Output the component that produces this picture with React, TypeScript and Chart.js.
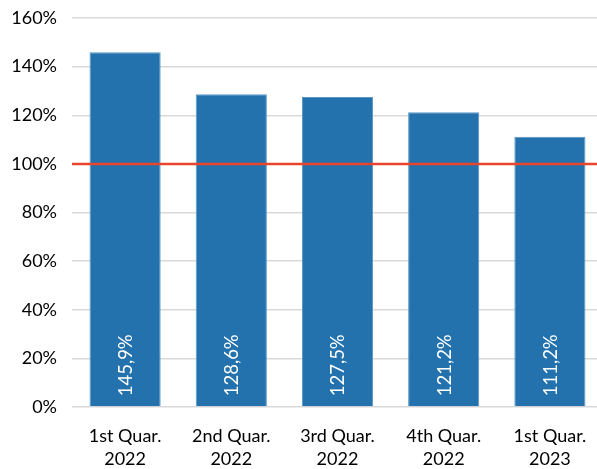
import React, { useEffect, useRef } from "react";
import { Chart, registerables } from "chart.js";

Chart.register(...registerables);

const categories: string[][] = [
  ["1st Quar.", "2022"],
  ["2nd Quar.", "2022"],
  ["3rd Quar.", "2022"],
  ["4th Quar.", "2022"],
  ["1st Quar.", "2023"],
];
const values: number[] = [145.9, 128.6, 127.5, 121.2, 111.2];
const valueLabels: string[] = ["145,9%", "128,6%", "127,5%", "121,2%", "111,2%"];
const referenceValue = 100;

const FONT = "Lato, 'Open Sans', sans-serif";

const overlayPlugin = {
  id: "overlay",
  afterDatasetsDraw(chart: any) {
    const { ctx, chartArea, scales } = chart;
    const y = scales.y.getPixelForValue(referenceValue);
    ctx.save();
    ctx.strokeStyle = "#E8452C";
    ctx.lineWidth = 2.5;
    ctx.beginPath();
    ctx.moveTo(chartArea.left, y);
    ctx.lineTo(chartArea.right, y);
    ctx.stroke();

    const meta = chart.getDatasetMeta(0);
    ctx.fillStyle = "#ffffff";
    ctx.font = `18.5px ${FONT}`;
    ctx.textAlign = "left";
    ctx.textBaseline = "middle";
    meta.data.forEach((bar: any, i: number) => {
      ctx.save();
      ctx.translate(bar.x, bar.base - 10);
      ctx.rotate(-Math.PI / 2);
      ctx.fillText(valueLabels[i], 0, 1);
      ctx.restore();
    });
    ctx.restore();
  },
};

export default function App() {
  const ref = useRef<HTMLCanvasElement | null>(null);
  useEffect(() => {
    if (!ref.current) return;
    const chart = new Chart(ref.current, {
      type: "bar",
      data: {
        labels: categories,
        datasets: [
          {
            data: values,
            backgroundColor: "#2372AD",
            borderColor: "#5b97c6",
            borderWidth: 1,
            categoryPercentage: 1,
            barPercentage: 0.67,
          },
        ],
      },
      options: {
        animation: false,
        responsive: false,
        maintainAspectRatio: false,
        layout: { padding: 0 },
        plugins: { legend: { display: false }, tooltip: { enabled: false } },
        scales: {
          x: {
            grid: { display: false },
            border: { display: false },
            ticks: {
              color: "#000",
              font: { family: FONT, size: 18, lineHeight: 1.27 },
              maxRotation: 0,
              padding: 10,
            },
            afterFit: (s: any) => {
              s.height = 62;
            },
          },
          y: {
            min: 0,
            max: 160,
            border: { display: false },
            grid: { color: "#d9d9d9", lineWidth: 1.5, drawTicks: false },
            ticks: {
              stepSize: 20,
              color: "#000",
              padding: 15,
              font: { family: FONT, size: 18 },
              callback: (v: any) => `${v}%`,
            },
            afterFit: (s: any) => {
              s.width = 72;
              s.paddingTop = 18;
              s.paddingBottom = 0;
            },
          },
        },
      },
      plugins: [overlayPlugin],
    });
    return () => chart.destroy();
  }, []);
  return (
    <div style={{ position: "fixed", left: 0, top: 0, width: 597, height: 469, overflow: "hidden", background: "#fff" }}>
      <canvas ref={ref} width={603} height={469} style={{ display: "block" }} />
    </div>
  );
}
